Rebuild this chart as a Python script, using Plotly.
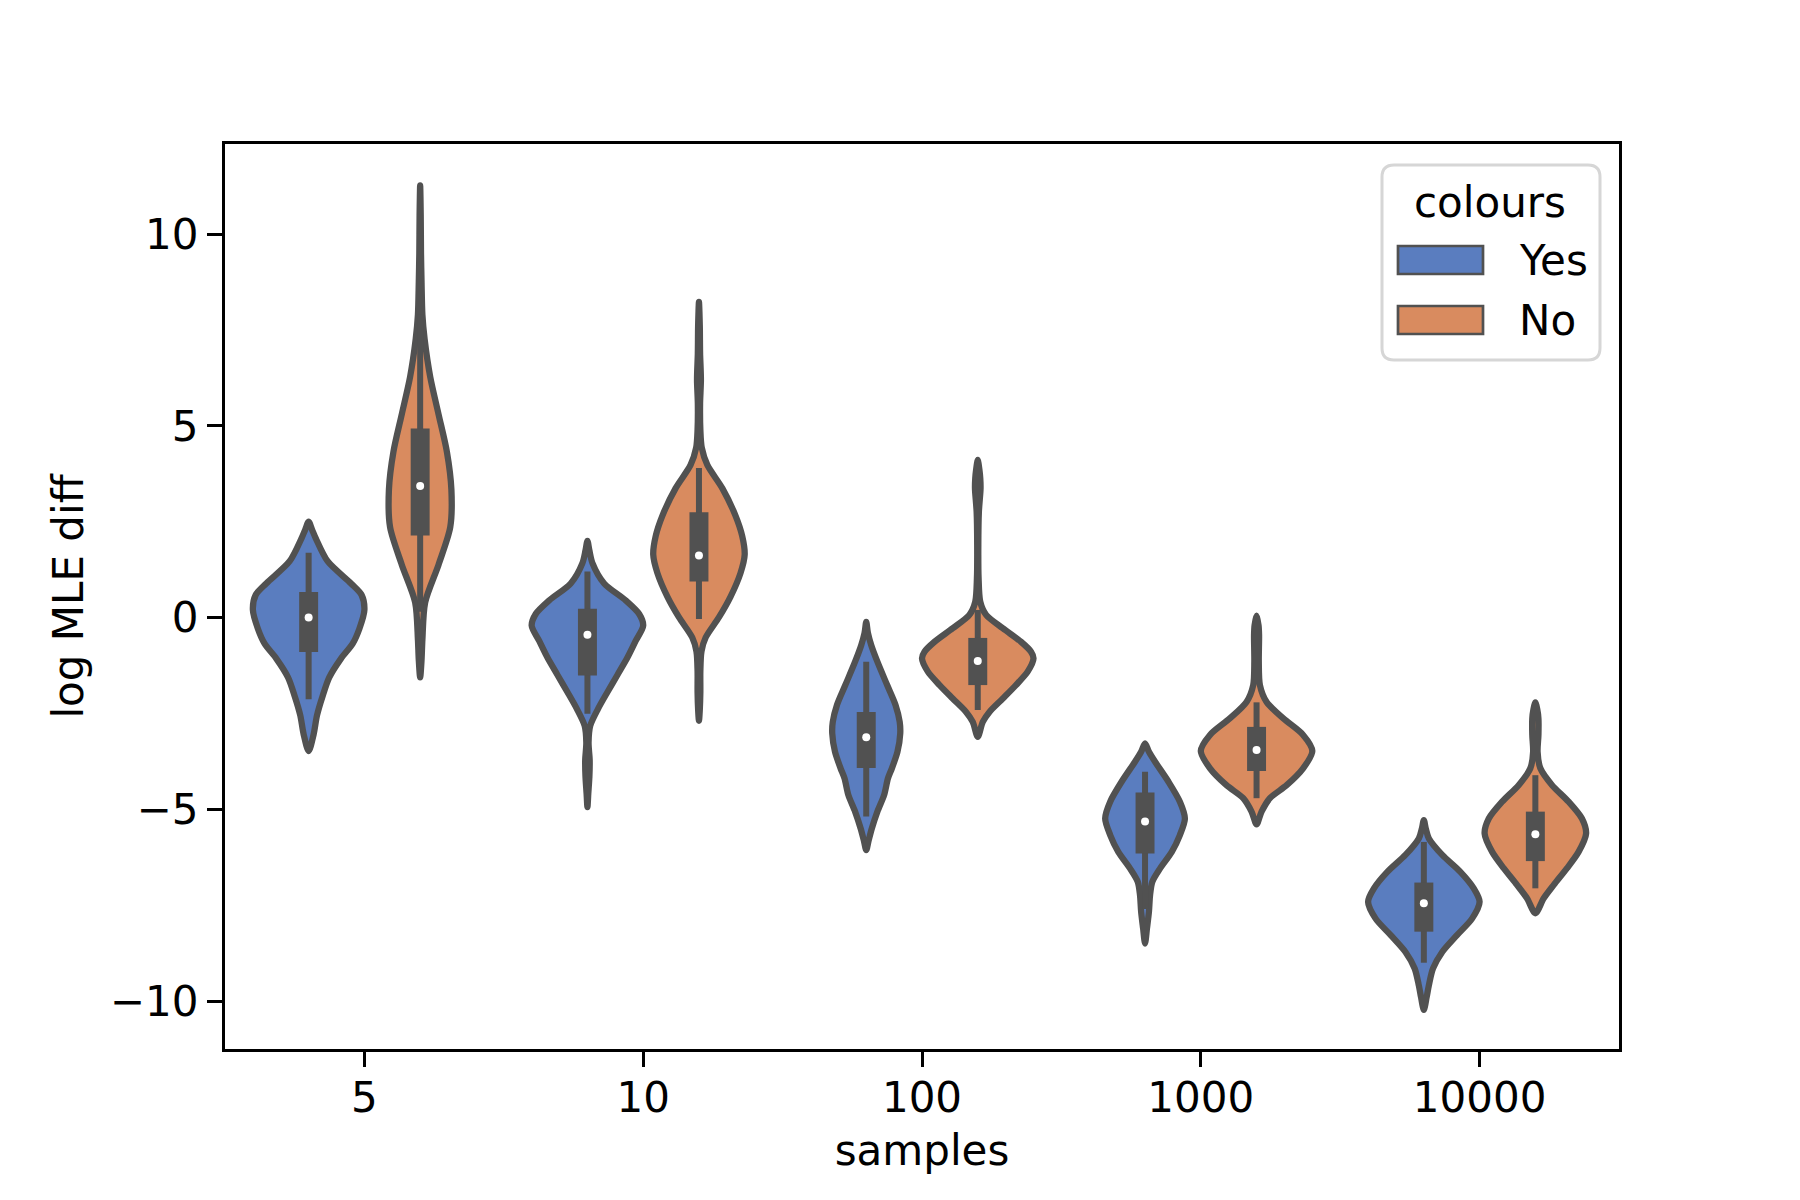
import plotly.graph_objs as go

# categories and hue levels
samples = ["5", "10", "100", "1000", "10000"]
hues = ["Yes", "No"]

# violin outlines: y levels (top -> bottom) and half widths
yes_5_y = [2.50, 2.30, 2.06, 1.47, 0.89, 0.59, 0.20, -0.29, -0.68, -1.07, -1.56, -2.05, -2.55, -3.04, -3.48]
yes_5_w = [0, 0.012, 0.026, 0.068, 0.152, 0.19, 0.2, 0.182, 0.158, 0.116, 0.074, 0.05, 0.03, 0.018, 0]
no_5_y = [11.27, 10.5, 9.5, 8.73, 7.9, 7.26, 6.28, 5.30, 4.32, 3.34, 2.36, 1.38, 0.40, -0.58, -1.1, -1.56]
no_5_w = [0, 0.002, 0.003, 0.005, 0.008, 0.016, 0.036, 0.066, 0.096, 0.112, 0.108, 0.066, 0.018, 0.008, 0.005, 0]

yes_10_y = [2.00, 1.75, 1.42, 0.89, 0.45, 0.10, -0.21, -0.61, -1.05, -1.49, -1.94, -2.38, -2.82, -3.26, -3.71, -4.15, -4.59, -4.94]
yes_10_w = [0, 0.007, 0.018, 0.06, 0.137, 0.185, 0.2, 0.173, 0.143, 0.108, 0.072, 0.038, 0.01, 0.004, 0.008, 0.007, 0.003, 0]
no_10_y = [8.23, 7.6, 6.90, 6.2, 5.58, 4.9, 4.43, 3.98, 3.37, 2.66, 2.13, 1.64, 1.16, 0.54, 0.01, -0.52, -0.88, -1.4, -1.94, -2.4, -2.69]
no_10_w = [0, 0.003, 0.004, 0.007, 0.004, 0.005, 0.01, 0.03, 0.084, 0.131, 0.155, 0.164, 0.149, 0.113, 0.072, 0.024, 0.009, 0.005, 0.005, 0.003, 0]

yes_100_y = [-0.11, -0.4, -0.72, -1.15, -1.76, -2.28, -2.72, -3.02, -3.50, -3.93, -4.19, -4.63, -5.06, -5.50, -5.8, -6.06]
yes_100_w = [0, 0.006, 0.018, 0.04, 0.075, 0.105, 0.12, 0.122, 0.112, 0.092, 0.078, 0.064, 0.04, 0.02, 0.009, 0]
no_100_y = [4.11, 3.85, 3.63, 3.37, 2.76, 1.89, 1.02, 0.41, 0.07, -0.28, -0.63, -0.89, -1.06, -1.41, -1.76, -2.11, -2.46, -2.72, -3.11]
no_100_w = [0, 0.006, 0.009, 0.01, 0.004, 0.002, 0.003, 0.009, 0.03, 0.09, 0.155, 0.191, 0.2, 0.179, 0.137, 0.09, 0.042, 0.018, 0]

yes_1000_y = [-3.28, -3.5, -3.76, -4.28, -4.80, -5.24, -5.67, -6.11, -6.54, -6.89, -7.24, -7.67, -8.10, -8.50]
yes_1000_w = [0, 0.014, 0.036, 0.084, 0.125, 0.143, 0.125, 0.096, 0.054, 0.026, 0.018, 0.014, 0.007, 0]
no_1000_y = [0.05, -0.2, -0.46, -1.15, -1.76, -2.20, -2.63, -3.06, -3.48, -3.93, -4.37, -4.71, -5.06, -5.39]
no_1000_w = [0, 0.007, 0.009, 0.008, 0.012, 0.036, 0.096, 0.167, 0.2, 0.167, 0.108, 0.048, 0.018, 0]

yes_10000_y = [-5.28, -5.5, -5.76, -6.19, -6.63, -7.06, -7.41, -7.85, -8.28, -8.72, -9.15, -9.59, -9.9, -10.23]
yes_10000_w = [0, 0.007, 0.018, 0.066, 0.131, 0.179, 0.2, 0.173, 0.119, 0.066, 0.033, 0.018, 0.01, 0]
no_10000_y = [-2.21, -2.4, -2.63, -3.06, -3.50, -3.93, -4.37, -4.80, -5.24, -5.63, -6.11, -6.54, -6.97, -7.32, -7.71]
no_10000_w = [0, 0.007, 0.011, 0.011, 0.008, 0.018, 0.06, 0.119, 0.167, 0.182, 0.155, 0.113, 0.066, 0.03, 0]

# inner box stats per category
yes_q1 = [-0.90, -1.51, -3.92, -6.15, -8.19]
yes_med = [0.0, -0.45, -3.12, -5.32, -7.45]
yes_q3 = [0.67, 0.23, -2.46, -4.56, -6.91]
yes_lo = [-2.13, -2.51, -5.19, -7.6, -9.0]
yes_hi = [1.69, 1.20, -1.15, -4.02, -5.85]

no_q1 = [2.14, 0.94, -1.76, -4.00, -6.35]
no_med = [3.43, 1.62, -1.13, -3.45, -5.65]
no_q3 = [4.93, 2.75, -0.53, -2.85, -5.06]
no_lo = [0.15, -0.04, -2.41, -4.71, -7.06]
no_hi = [7.9, 3.90, 0.20, -2.21, -4.11]

yes_shapes = [(yes_5_y, yes_5_w), (yes_10_y, yes_10_w), (yes_100_y, yes_100_w),
              (yes_1000_y, yes_1000_w), (yes_10000_y, yes_10000_w)]
no_shapes = [(no_5_y, no_5_w), (no_10_y, no_10_w), (no_100_y, no_100_w),
             (no_1000_y, no_1000_w), (no_10000_y, no_10000_w)]

colours = {"Yes": "#5a7dbf", "No": "#d98b5f"}
GRAY = "#515151"
FONT = "DejaVu Sans"
FS = 42

# plot area on screen in pixels (legend placement); page body adds an 8px offset
L, R, T, B = 225, 1619, 144, 1049
W, H = 1800, 1200
PAGE_OFF = 8


def px(x):
    return (x - L) / (R - L)


def py(y):
    return (B - y) / (B - T)


fig = go.Figure()

groups = [
    ("Yes", -0.2, yes_shapes, yes_q1, yes_med, yes_q3, yes_lo, yes_hi),
    ("No", 0.2, no_shapes, no_q1, no_med, no_q3, no_lo, no_hi),
]

for hue, off, shapes, q1, med, q3, lo, hi in groups:
    for i, (levels, widths) in enumerate(shapes):
        pos = i + off
        xs = [pos + w for w in widths] + [pos - w for w in widths[-2:0:-1]]
        ys = list(levels) + list(levels[-2:0:-1])
        xs.append(xs[0])
        ys.append(ys[0])
        fig.add_trace(go.Scatter(x=xs, y=ys, mode="lines", fill="toself",
                                 fillcolor=colours[hue],
                                 line=dict(color=GRAY, width=6.3, shape="spline", smoothing=0.8),
                                 showlegend=False, hoverinfo="skip"))

for hue, off, shapes, q1, med, q3, lo, hi in groups:
    for i in range(len(samples)):
        pos = i + off
        # whisker
        fig.add_trace(go.Scatter(x=[pos, pos], y=[lo[i], hi[i]], mode="lines",
                                 line=dict(color=GRAY, width=6), showlegend=False, hoverinfo="skip"))
        # box
        bw = 0.034
        fig.add_trace(go.Scatter(x=[pos - bw, pos + bw, pos + bw, pos - bw, pos - bw],
                                 y=[q1[i], q1[i], q3[i], q3[i], q1[i]],
                                 mode="lines", fill="toself", fillcolor=GRAY,
                                 line=dict(width=0, color=GRAY), showlegend=False, hoverinfo="skip"))
    # medians
    fig.add_trace(go.Scatter(x=[i + off for i in range(len(samples))], y=med, mode="markers",
                             marker=dict(color="white", size=8, line=dict(width=0)),
                             showlegend=False, hoverinfo="skip"))

# legend drawn like matplotlib's
lx0, lx1, ly0, ly1, r = 1382, 1600, 165, 360, 12
frame = (f"M {px(lx0 + r)} {py(ly0)} L {px(lx1 - r)} {py(ly0)} Q {px(lx1)} {py(ly0)} {px(lx1)} {py(ly0 + r)} "
         f"L {px(lx1)} {py(ly1 - r)} Q {px(lx1)} {py(ly1)} {px(lx1 - r)} {py(ly1)} "
         f"L {px(lx0 + r)} {py(ly1)} Q {px(lx0)} {py(ly1)} {px(lx0)} {py(ly1 - r)} "
         f"L {px(lx0)} {py(ly0 + r)} Q {px(lx0)} {py(ly0)} {px(lx0 + r)} {py(ly0)} Z")
shapes_layout = [dict(type="path", path=frame, xref="paper", yref="paper",
                      line=dict(color="#d6d6d6", width=3), fillcolor="rgba(255,255,255,0.8)")]
annotations = [dict(text="colours", x=px(1490), y=py(202), xref="paper", yref="paper",
                    xanchor="center", yanchor="middle", showarrow=False,
                    font=dict(family=FONT, size=FS, color="black"))]
for hue, yc in zip(hues, [260, 320]):
    shapes_layout.append(dict(type="rect", xref="paper", yref="paper",
                              x0=px(1398), x1=px(1483), y0=py(yc - 14), y1=py(yc + 14),
                              fillcolor=colours[hue], line=dict(color=GRAY, width=2.7)))
    annotations.append(dict(text=hue, x=px(1517), y=py(yc), xref="paper", yref="paper",
                            xanchor="left", yanchor="middle", showarrow=False,
                            font=dict(family=FONT, size=FS, color="black")))

axis_style = dict(showline=True, linecolor="black", linewidth=3.3, mirror=True,
                  ticks="outside", ticklen=15, tickwidth=3.3, tickcolor="black",
                  showgrid=False, zeroline=False,
                  tickfont=dict(family=FONT, size=FS, color="black"))

fig.update_layout(
    width=W, height=H,
    margin=dict(l=L - PAGE_OFF, r=W - R + PAGE_OFF, t=T - PAGE_OFF, b=H - B + PAGE_OFF),
    plot_bgcolor="white", paper_bgcolor="white",
    font=dict(family=FONT, size=FS, color="black"),
    xaxis=dict(range=[-0.5, 4.5], tickvals=list(range(len(samples))), ticktext=samples,
               ticklabelstandoff=-6,
               title=dict(text="samples", font=dict(family=FONT, size=FS), standoff=16),
               **axis_style),
    yaxis=dict(range=[-11.25, 12.35], tickvals=[-10, -5, 0, 5, 10],
               title=dict(text="log MLE diff", font=dict(family=FONT, size=FS), standoff=14),
               **axis_style),
    shapes=shapes_layout,
    annotations=annotations,
    showlegend=False,
)

fig.write_html("out.html")
